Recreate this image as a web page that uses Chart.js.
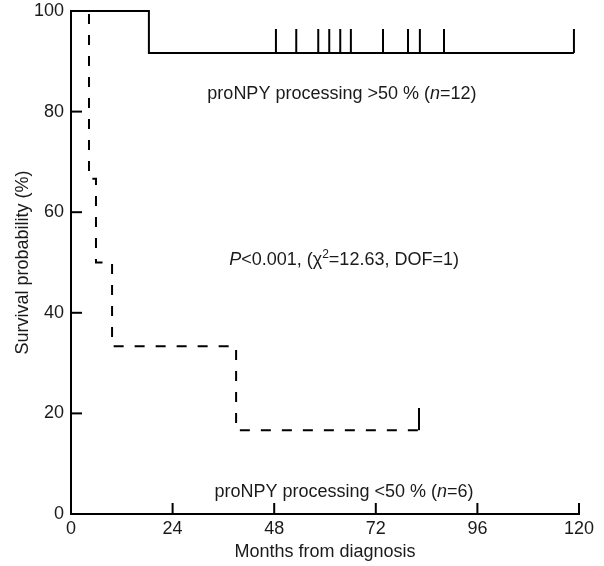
<!DOCTYPE html>
<html>
<head>
<meta charset="utf-8">
<script src="https://cdn.jsdelivr.net/npm/chart.js@4"></script>
<style>
  html, body { margin: 0; padding: 0; background: #fff; }
  #wrap { width: 604px; height: 566px; }
</style>
</head>
<body>
<div id="wrap"><canvas id="mycanvas"></canvas></div>
<script>
// months / survival (%)
var high_times = [0, 18.4, 118.8];
var high_surv = [100, 91.67, 91.67];
var high_censored = [48.4, 53.2, 58.4, 61.0, 63.6, 66.1, 73.7, 79.6, 82.4, 88.1, 118.8];

var low_times = [0, 4.25, 5.9, 9.7, 39.0, 82.2];
var low_surv = [100, 66.67, 50, 33.33, 16.67, 16.67];
var low_censored = [82.2];

var x_ticks = [0, 24, 48, 72, 96, 120];
var y_ticks = [0, 20, 40, 60, 80, 100];

var label_high = "proNPY processing >50 % (n=12)";
var label_low = "proNPY processing <50 % (n=6)";
var label_test = "P<0.001, (\u03c72=12.63, DOF=1)";

var FONT = "'Liberation Sans', Arial, Helvetica, sans-serif";
var INK = "#1a1a1a";

function pts(xs, ys) {
  var out = [];
  for (var i in xs) out.push({x: xs[i], y: ys[i]});
  return out;
}

// vertical censor tick sticking up from the point
function tickMark(len) {
  var c = document.createElement("canvas");
  c.width = 4;
  c.height = len * 2;
  var g = c.getContext("2d");
  g.fillStyle = "#000";
  g.fillRect(1, 0, 2, len);
  return c;
}

var high_marks = [];
for (var i in high_censored) high_marks.push({x: high_censored[i], y: high_surv[high_surv.length - 1]});
var low_marks = [];
for (var j in low_censored) low_marks.push({x: low_censored[j], y: low_surv[low_surv.length - 1]});

// ticks pointing into the plot
var innerTicks = {
  id: "innerTicks",
  afterDraw: function(chart) {
    var ctx = chart.ctx, xs = chart.scales.x, ys = chart.scales.y;
    ctx.save();
    ctx.strokeStyle = "#000";
    ctx.lineWidth = 2;
    y_ticks.forEach(function(v) {
      if (v === 0) return;
      var py = ys.getPixelForValue(v);
      ctx.beginPath(); ctx.moveTo(xs.left, py); ctx.lineTo(xs.left + 11, py); ctx.stroke();
    });
    x_ticks.forEach(function(v) {
      if (v === 0) return;
      var px = xs.getPixelForValue(v);
      ctx.beginPath(); ctx.moveTo(px, ys.bottom); ctx.lineTo(px, ys.bottom - 11); ctx.stroke();
    });
    ctx.restore();
  }
};

// text runs: i = italic, s = superscript
function runs(text) {
  if (text === label_test) {
    return [{t: "P", i: true}, {t: "<0.001, (\u03c7"}, {t: "2", s: true}, {t: "=12.63, DOF=1)"}];
  }
  var k = text.indexOf("(n=");
  return [{t: text.slice(0, k + 1)}, {t: "n", i: true}, {t: text.slice(k + 2)}];
}

function drawRuns(ctx, parts, cx, cy, size) {
  function font(p) {
    var sz = p.s ? Math.round(size * 0.65) : size;
    return (p.i ? "italic " : "") + sz + "px " + FONT;
  }
  var w = 0;
  parts.forEach(function(p) { ctx.font = font(p); w += ctx.measureText(p.t).width; });
  var x = cx - w / 2;
  ctx.textBaseline = "alphabetic";
  ctx.textAlign = "left";
  parts.forEach(function(p) {
    ctx.font = font(p);
    var base = cy + size * 0.36;
    ctx.fillText(p.t, x, p.s ? base - size * 0.4 : base);
    x += ctx.measureText(p.t).width;
  });
}

var annotations = {
  id: "annotations",
  afterDraw: function(chart) {
    var ctx = chart.ctx, xs = chart.scales.x, ys = chart.scales.y;
    ctx.save();
    ctx.fillStyle = INK;
    drawRuns(ctx, runs(label_high), xs.getPixelForValue(64), ys.getPixelForValue(83.7), 18);
    drawRuns(ctx, runs(label_test), xs.getPixelForValue(64.5), ys.getPixelForValue(50.7), 18);
    drawRuns(ctx, runs(label_low), xs.getPixelForValue(64.5), ys.getPixelForValue(4.6), 18);
    ctx.restore();
  }
};

var chartdata = {
  datasets: [
    {
      label: "high",
      data: pts(high_times, high_surv),
      stepped: true,
      borderColor: "#000",
      borderWidth: 2,
      pointRadius: 0,
      fill: false,
      clip: 10
    },
    {
      label: "low",
      data: pts(low_times, low_surv),
      stepped: true,
      borderColor: "#000",
      borderWidth: 2,
      borderDash: [10, 11],
      pointRadius: 0,
      fill: false,
      clip: 10
    },
    {
      label: "high censored",
      data: high_marks,
      showLine: false,
      pointStyle: tickMark(24),
      pointRadius: 3,
      clip: 30
    },
    {
      label: "low censored",
      data: low_marks,
      showLine: false,
      pointStyle: tickMark(22),
      pointRadius: 3,
      clip: 30
    }
  ]
};

var ctx = document.getElementById("mycanvas");

var LineGraph = new Chart(ctx, {
  type: "line",
  data: chartdata,
  plugins: [innerTicks, annotations],
  options: {
    responsive: true,
    maintainAspectRatio: false,
    animation: false,
    layout: { padding: { top: 11, right: 25, left: 0, bottom: 0 } },
    plugins: { legend: { display: false }, tooltip: { enabled: false } },
    scales: {
      x: {
        type: "linear",
        min: 0,
        max: 120,
        afterBuildTicks: function(scale) { scale.ticks = x_ticks.map(function(v) { return {value: v}; }); },
        afterFit: function(scale) { scale.height = 52; scale.paddingLeft = 0; scale.paddingRight = 0; },
        grid: { drawOnChartArea: false, drawTicks: false },
        border: { color: "#000", width: 2 },
        ticks: { color: INK, font: { family: FONT, size: 18 }, padding: 4, maxRotation: 0 },
        title: { display: true, text: "Months from diagnosis", color: INK, font: { family: FONT, size: 18 }, padding: { top: 0, bottom: 3 } }
      },
      y: {
        min: 0,
        max: 100,
        afterBuildTicks: function(scale) { scale.ticks = y_ticks.map(function(v) { return {value: v}; }); },
        afterFit: function(scale) { scale.width = 71; scale.paddingTop = 0; scale.paddingBottom = 0; },
        grid: { drawOnChartArea: false, drawTicks: false },
        border: { color: "#000", width: 2 },
        ticks: { color: INK, font: { family: FONT, size: 18 }, padding: 7 },
        title: { display: true, text: "Survival probability (%)", color: INK, font: { family: FONT, size: 18 }, padding: { top: 12, bottom: 0 } }
      }
    }
  }
});
</script>
</body>
</html>
